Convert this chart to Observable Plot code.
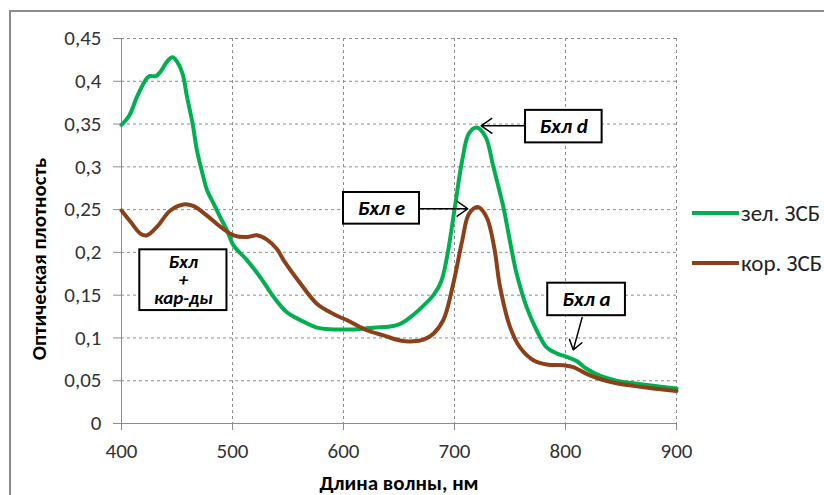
<!DOCTYPE html>
<html>
<head>
<meta charset="utf-8">
<script src="https://cdn.jsdelivr.net/npm/d3@7"></script>
<script src="https://cdn.jsdelivr.net/npm/@observablehq/plot@0.6"></script>
<style>
  html, body { margin: 0; padding: 0; background: #fff; overflow: hidden; }
  #wrap { position: relative; width: 824px; height: 495px; overflow: hidden;
          font-family: Carlito, Calibri, "Open Sans", sans-serif; }
  #border { position: absolute; left: 9px; top: 10px; width: 900px; height: 600px;
            border: 2px solid #8c8c8c; box-sizing: border-box; }
  #chart { position: absolute; left: 0; top: 0; }
  #legend { position: absolute; left: 692px; top: 0; font-size: 23px; color: #222; }
  .row { position: absolute; left: 0; display: flex; align-items: center; white-space: nowrap; }
  .sw { width: 47px; height: 4px; margin-right: 2px; }
</style>
</head>
<body>
<div id="wrap">
  <div id="border"></div>
  <div id="chart"></div>
  <div id="legend"></div>
</div>
<script>
// ---- data ----
const seriesNames = ["зел. ЗСБ", "кор. ЗСБ"];
const seriesColors = ["#00b050", "#8a4119"];

const greenX = [400,407,414,421,425,431,435,441,446,450,455,459,464,468,473,477,483,489,495,501,513,525,537,549,561,576,591,609,627,645,652,660,669,681,688,694,700,707,713,720,728,735,744,751,756,765,774,783,792,801,810,819,831,846,861,879,900];
const greenY = [0.349,0.360,0.382,0.400,0.406,0.406,0.411,0.423,0.428,0.423,0.409,0.382,0.351,0.319,0.292,0.273,0.257,0.241,0.226,0.208,0.191,0.171,0.148,0.130,0.121,0.112,0.110,0.110,0.112,0.114,0.117,0.124,0.134,0.150,0.166,0.200,0.250,0.308,0.339,0.346,0.335,0.300,0.253,0.206,0.175,0.136,0.109,0.089,0.082,0.078,0.073,0.064,0.056,0.050,0.047,0.044,0.041];

const brownX = [400,408,417,423,432,444,456,465,477,489,501,513,522,531,540,546,561,576,591,606,621,636,651,663,672,681,690,699,707,713,721,729,736,741,750,759,771,783,798,807,819,831,846,861,879,900];
const brownY = [0.249,0.236,0.222,0.220,0.230,0.249,0.256,0.254,0.243,0.230,0.220,0.218,0.220,0.215,0.204,0.191,0.164,0.140,0.128,0.119,0.109,0.103,0.097,0.096,0.098,0.105,0.121,0.164,0.214,0.245,0.253,0.241,0.204,0.160,0.113,0.089,0.074,0.069,0.068,0.066,0.058,0.052,0.047,0.044,0.041,0.038];

const xTicks = [400,500,600,700,800,900];
const yTicks = [0,0.05,0.1,0.15,0.2,0.25,0.3,0.35,0.4,0.45];
const xTitle = "Длина волны, нм";
const yTitle = "Оптическая плотность";

// annotations (data units)
const annoLabels = ["Бхл d", "Бхл e", "Бхл\n+\nкар-ды", "Бхл a"];
const annoX1 = [764, 600, 416.5, 784];
const annoX2 = [833, 668.5, 495, 854];
const annoY1 = [0.328, 0.233, 0.132, 0.126];
const annoY2 = [0.366, 0.270, 0.203, 0.164];
const arrowFromX = [764, 668.5, 815];
const arrowFromY = [0.348, 0.251, 0.124];
const arrowToX = [724, 712, 807];
const arrowToY = [0.348, 0.251, 0.086];

// ---- build ----
const lineData = [
  ...greenX.map((x, i) => ({x, y: greenY[i], s: seriesNames[0]})),
  ...brownX.map((x, i) => ({x, y: brownY[i], s: seriesNames[1]}))
];
const fmt = d => String(+d.toFixed(2)).replace(".", ",");
const gridCol = "#8c8c8c";
const font = 'Carlito, Calibri, "Open Sans", sans-serif';
const idx = annoLabels.map((_, i) => i);
const single = idx.filter(i => !annoLabels[i].includes("\n"));
const multi = idx.filter(i => annoLabels[i].includes("\n"));
const annoText = (ix, size, lh) => Plot.text(ix, {
  x: i => (annoX1[i] + annoX2[i]) / 2, y: i => (annoY1[i] + annoY2[i]) / 2,
  text: i => annoLabels[i], fontSize: size, fontWeight: "bold", fontStyle: "italic",
  fill: "#000", lineHeight: lh
});

const chart = Plot.plot({
  width: 824,
  height: 495,
  marginLeft: 121,
  marginRight: 148,
  marginTop: 38,
  marginBottom: 72,
  style: {fontFamily: font, fontSize: "21px", background: "transparent", overflow: "visible"},
  x: {domain: [400, 900]},
  y: {domain: [0, 0.45]},
  color: {domain: seriesNames, range: seriesColors},
  marks: [
    Plot.gridX(xTicks.filter(d => d > 400), {stroke: gridCol, strokeOpacity: 1, strokeDasharray: "3,3"}),
    Plot.gridY(yTicks.filter(d => d > 0), {stroke: gridCol, strokeOpacity: 1, strokeDasharray: "3,3"}),
    Plot.ruleX([400], {stroke: gridCol}),
    Plot.ruleY([0], {stroke: gridCol}),
    Plot.axisX(xTicks, {tickSize: 7, tickPadding: 13, stroke: gridCol, fill: "#333", fontSize: 21, label: null, tickFormat: d => d}),
    Plot.axisY(yTicks, {tickSize: 8, tickPadding: 12, stroke: gridCol, fill: "#333", fontSize: 21, label: null, tickFormat: fmt}),
    Plot.line(lineData, {x: "x", y: "y", z: "s", stroke: "s", strokeWidth: 4, curve: "catmull-rom"}),
    Plot.arrow(arrowFromX.map((_, i) => i), {
      x1: i => arrowFromX[i], y1: i => arrowFromY[i], x2: i => arrowToX[i], y2: i => arrowToY[i],
      stroke: "#000", strokeWidth: 1.5, headLength: 13, headAngle: 70
    }),
    Plot.rect(idx, {
      x1: i => annoX1[i], x2: i => annoX2[i], y1: i => annoY1[i], y2: i => annoY2[i],
      fill: "#fff", stroke: "#000", strokeWidth: 2
    }),
    annoText(single, 21, 1),
    annoText(multi, 19, 0.95),
    Plot.text([xTitle], {frameAnchor: "bottom", lineAnchor: "middle", textAnchor: "middle", dy: 60, text: d => d, fontWeight: "bold", fontSize: 21, fill: "#000"}),
    Plot.text([yTitle], {frameAnchor: "left", textAnchor: "middle", lineAnchor: "middle", dx: -82, dy: 28, rotate: -90, text: d => d, fontWeight: "bold", fontSize: 21, fill: "#000"})
  ]
});
document.getElementById("chart").appendChild(chart);

const legend = document.getElementById("legend");
const rowTops = [213, 263];
seriesNames.forEach((name, i) => {
  const row = document.createElement("div");
  row.className = "row";
  row.style.top = (rowTops[i] - 14) + "px";
  row.style.height = "28px";
  const sw = document.createElement("div");
  sw.className = "sw";
  sw.style.background = seriesColors[i];
  const t = document.createElement("span");
  t.textContent = name;
  row.appendChild(sw);
  row.appendChild(t);
  legend.appendChild(row);
});
</script>
</body>
</html>
